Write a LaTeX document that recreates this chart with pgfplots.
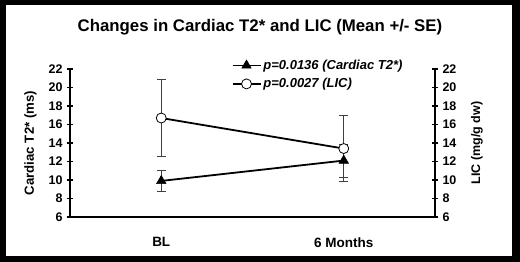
\documentclass[border=0pt]{standalone}
\usepackage{pgfplots}
\pgfplotsset{compat=1.18}
\usepackage{fontspec}
\setmainfont{Liberation Sans}
\newcommand{\tfont}{\fontsize{12.5}{14}\selectfont\bfseries}
\begin{document}
\begin{tikzpicture}
\fill[black] (0pt,0pt) rectangle (520pt,262pt);
\useasboundingbox (0pt,0pt) rectangle (520pt,262pt);
\fill[white] (6pt,6pt) rectangle (512pt,257pt);
\node[font=\fontsize{16.8}{18}\selectfont\bfseries] at (260pt,235pt) {Changes in Cardiac T2* and LIC (Mean +/- SE)};
\pgfplotsset{
  mybase/.style={
    at={(70pt,45pt)}, anchor=south west, scale only axis,
    width=365pt, height=148pt,
    xmin=0, xmax=2, ymin=6, ymax=22,
    ytick={6,8,...,22},
    tick align=center, major tick length=6pt,
    every tick/.style={black, line width=1.2pt},
    axis line style={line width=1.8pt},
    /pgf/number format/assume math mode=true,
    yticklabel style={font=\tfont},
  }
}
\begin{axis}[mybase,
  axis x line=bottom, axis y line=left,
  x axis line style={-}, y axis line style={-},
  xtick={0.5,1.5}, xticklabels={BL,6 Months},
  x tick style={draw=none},
  extra x ticks={1}, extra x tick labels={},
  extra x tick style={tick style={draw=black, line width=1.2pt}, major tick length=10pt},
  xticklabel style={yshift=-14pt, font=\fontsize{13.5}{15}\selectfont\bfseries},
  ylabel={Cardiac T2* (ms)},
  every axis y label/.style={at={(axis description cs:-0.108,0.5)}, rotate=90, anchor=center, font=\fontsize{13.2}{15}\selectfont\bfseries},
  yticklabel style={xshift=-1pt},
  legend style={at={(0.434,1.089)}, anchor=north west, draw=none, fill=none,
    font=\fontsize{13}{14}\selectfont\bfseries\itshape, row sep=3.5pt,
    legend cell align=left},
  legend image code/.code={\draw[#1,mark repeat=2,mark phase=2] plot coordinates {(0pt,0pt)(14pt,0pt)(28pt,0pt)};},
]
\addplot[black, line width=1.8pt, mark=triangle*, mark size=5.5pt,
  mark options={line width=0.5pt, fill=black},
  error bars/.cd, y dir=both, y explicit,
  error bar style={line width=0.8pt, black!75},
  error mark options={rotate=90, mark size=4.5pt, line width=0.8pt, black!75}]
  coordinates {(0.5,9.9) +- (0,1.1) (1.5,12.1) +- (0,1.8)};
\addlegendentry{p=0.0136 (Cardiac T2*)}
\addplot[black, line width=1.8pt, mark=*, mark size=5pt,
  mark options={line width=0.8pt, fill=white},
  error bars/.cd, y dir=both, y explicit,
  error bar style={line width=0.8pt, black!75},
  error mark options={rotate=90, mark size=4.5pt, line width=0.8pt, black!75}]
  coordinates {(0.5,16.7) +- (0,4.2) (1.5,13.4) +- (0,3.6)};
\addlegendentry{p=0.0027 (LIC)}
\end{axis}
\begin{axis}[mybase,
  axis x line=none, axis y line=right,
  y axis line style={-},
  ylabel={LIC (mg/g dw)},
  every axis y label/.style={at={(axis description cs:1.115,0.5)}, rotate=90, anchor=center, font=\tfont},
  yticklabel style={xshift=1pt},
]
\end{axis}
\end{tikzpicture}
\end{document}
